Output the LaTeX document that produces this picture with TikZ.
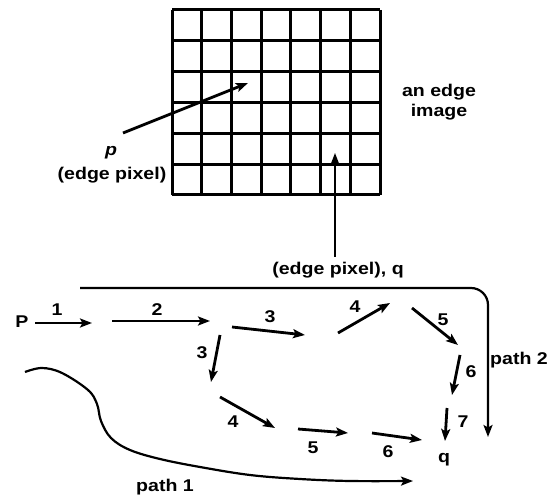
\documentclass[tikz,border=0pt]{standalone}
\usepackage{fontspec}
\setmainfont{Liberation Sans}[FakeStretch=1.15]
\usetikzlibrary{arrows.meta}
\tikzset{
  arr/.style={line width=2.8pt,-{Stealth[length=12pt,width=9pt,inset=2.5pt]}},
  pathline/.style={line width=2.2pt,-{Stealth[length=12pt,width=9pt,inset=2.5pt]}},
  lab/.style={inner sep=0pt,font=\bfseries\fontsize{17}{20}\selectfont},
  gridline/.style={line width=3pt},
}
\begin{document}
\begin{tikzpicture}[x=1pt,y=-1pt]
\useasboundingbox (0,0) rectangle (549,497);
% edge image grid
\foreach \i in {0,...,7} {\draw[gridline] ({172+\i*208/7},10) -- ({172+\i*208/7},195);}
\foreach \j in {0,...,6} {\draw[gridline] (172,{10+\j*185/6}) -- (380,{10+\j*185/6});}
\node[lab,align=center] (img) at (439,102) {an edge\\image};
% p pointer
\node[lab] (plab) at (111,153) {\itshape p};
\node[lab] (pdesc) at (112,175) {(edge pixel)};
\coordinate (ps) at (123,133);
\coordinate (pe) at (248,83);
\draw[arr] (ps) -- (pe);
% q pointer
\node[lab] (qdesc) at (338,270) {(edge pixel), q};
\coordinate (qs) at (335,257);
\coordinate (qe) at (335,153);
\draw[arr] (qs) -- (qe);
% P and q
\node[lab] (P) at (22,322) {P};
\node[lab] (q) at (444,460) {q};
% path 2
\coordinate (p2s) at (80,288);
\coordinate (p2c) at (488,288);
\coordinate (p2e) at (488,437);
\draw[pathline,rounded corners=17pt] (p2s) -- (p2c) -- (p2e);
\node[lab,anchor=east] (p2lab) at (548,360) {path 2};
% path 1
\coordinate (p1s) at (25,372);
\coordinate (p1e) at (413,481);
\draw[pathline] plot[smooth,tension=0.6] coordinates {(25,372) (42,368) (62,373) (88,390) (97,404) (101,421) (111,438) (130,450) (160,459) (200,467) (250,475) (300,479) (350,481) (413,481)};
\node[lab] (p1lab) at (165,487) {path 1};
% step arrows
\coordinate (a1s) at (35,323); \coordinate (a1e) at (92,323);
\draw[arr] (a1s) -- (a1e); \node[lab] (l1) at (57,310) {1};
\coordinate (a2s) at (112,321); \coordinate (a2e) at (210,321);
\draw[arr] (a2s) -- (a2e); \node[lab] (l2) at (157,310) {2};
\coordinate (a3s) at (232,327); \coordinate (a3e) at (305,335);
\draw[arr] (a3s) -- (a3e); \node[lab] (l3) at (270,317) {3};
\coordinate (b3s) at (220,335); \coordinate (b3e) at (211,382);
\draw[arr] (b3s) -- (b3e); \node[lab] (m3) at (202,353) {3};
\coordinate (a4s) at (338,333); \coordinate (a4e) at (390,303);
\draw[arr] (a4s) -- (a4e); \node[lab] (l4) at (355,307) {4};
\coordinate (a5s) at (412,308); \coordinate (a5e) at (458,345);
\draw[arr] (a5s) -- (a5e); \node[lab] (l5) at (443,320) {5};
\coordinate (a6s) at (460,355); \coordinate (a6e) at (452,395);
\draw[arr] (a6s) -- (a6e); \node[lab] (l6) at (471,372) {6};
\coordinate (a7s) at (447,408); \coordinate (a7e) at (445,441);
\draw[arr] (a7s) -- (a7e); \node[lab] (l7) at (463,422) {7};
\coordinate (b4s) at (220,397); \coordinate (b4e) at (275,428);
\draw[arr] (b4s) -- (b4e); \node[lab] (m4) at (233,422) {4};
\coordinate (b5s) at (298,429); \coordinate (b5e) at (348,433);
\draw[arr] (b5s) -- (b5e); \node[lab] (m5) at (313,448) {5};
\coordinate (b6s) at (372,433); \coordinate (b6e) at (422,440);
\draw[arr] (b6s) -- (b6e); \node[lab] (m6) at (388,452) {6};
\end{tikzpicture}
\end{document}
